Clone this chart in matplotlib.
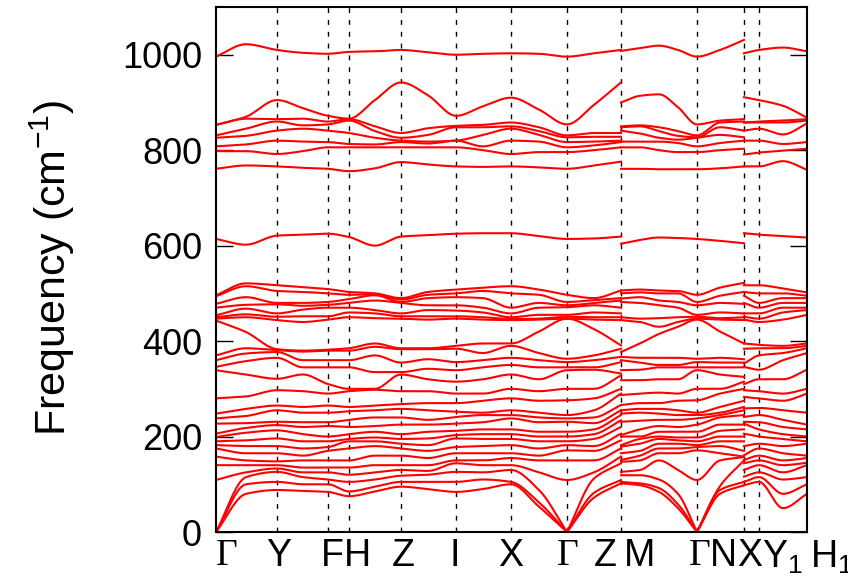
import numpy as np
import matplotlib
matplotlib.use("Agg")
import matplotlib.pyplot as plt

plt.rcParams["font.family"] = ["Liberation Sans", "DejaVu Sans"]
plt.rcParams["mathtext.fontset"] = "custom"
plt.rcParams["mathtext.rm"] = "Liberation Sans"
plt.rcParams["mathtext.it"] = "Liberation Sans:italic"

# k-path distance (arbitrary units) of the sampled points on each continuous piece
k_a = [0, 30, 61, 87, 112, 133, 159, 185, 212, 240, 267, 295, 323, 351, 378, 405]
k_b = [405, 424, 443, 462, 481, 504, 528]
k_c = [528, 543, 567, 591]

# frequencies (cm-1) read at each sampled k point: low optical/acoustic + high modes
freq_a = [
    [0, 0, 0, 109, 140, 158, 175, 182, 190, 199, 206, 227, 238, 248, 280, 339, 346, 360, 370, 443, 447, 450, 454, 470, 478, 494, 496,
     614, 761, 798, 808, 826, 831, 853, 853, 996],
    [80, 100, 115, 125, 140, 150, 165, 180, 192, 208, 218, 228, 243, 258, 284, 330, 358, 374, 385, 419, 450, 456, 468, 476, 492, 515, 521,
     602, 768, 798, 812, 830, 845, 866, 870, 1022],
    [88, 105, 126, 133, 140, 148, 165, 180, 196, 213, 224, 231, 255, 265, 297, 321, 365, 377, 381, 383, 444, 451, 458, 477, 480, 505, 517,
     621, 766, 792, 820, 841, 860, 865, 905, 1010],
    [86, 100, 115, 125, 135, 150, 160, 175, 190, 205, 220, 230, 250, 262, 295, 330, 345, 360, 378, 380, 440, 452, 466, 474, 480, 503, 513,
     623, 763, 798, 818, 845, 852, 866, 888, 1004],
    [84, 100, 110, 125, 135, 150, 170, 178, 190, 200, 222, 230, 250, 265, 290, 310, 345, 360, 380, 382, 445, 452, 470, 476, 482, 500, 509,
     625, 761, 806, 817, 841, 854, 860, 872, 1002],
    [75, 85, 105, 120, 135, 150, 175, 190, 195, 205, 220, 235, 253, 262, 295, 300, 345, 360, 380, 385, 450, 460, 470, 480, 488, 497, 503,
     618, 756, 806, 813, 836, 862, 865, 866, 1006],
    [85, 95, 110, 125, 140, 160, 180, 190, 198, 210, 222, 240, 255, 265, 298, 300, 335, 370, 388, 395, 448, 458, 465, 485, 496, 498, 500,
     600, 762, 806, 812, 826, 840, 850, 905, 1007],
    [95, 105, 118, 130, 140, 160, 175, 185, 195, 205, 225, 240, 258, 268, 295, 330, 335, 355, 383, 385, 447, 452, 458, 480, 482, 487, 490,
     619, 775, 806, 817, 820, 826, 836, 942, 1010],
    [90, 105, 120, 128, 140, 155, 170, 182, 196, 210, 225, 235, 255, 270, 295, 320, 342, 362, 383, 385, 445, 452, 465, 475, 490, 497, 503,
     622, 770, 806, 814, 818, 832, 846, 915, 1005],
    [84, 105, 126, 144, 150, 165, 178, 196, 203, 212, 227, 241, 252, 270, 290, 315, 339, 356, 384, 390, 447, 452, 464, 475, 492, 500, 508,
     625, 766, 806, 820, 820, 848, 851, 872, 1000],
    [90, 110, 125, 140, 150, 165, 180, 195, 205, 215, 230, 245, 250, 275, 290, 320, 345, 360, 375, 395, 445, 450, 460, 470, 490, 505, 512,
     626, 765, 800, 808, 832, 848, 853, 892, 1002],
    [100, 105, 130, 140, 155, 165, 182, 195, 205, 215, 238, 245, 255, 280, 300, 330, 350, 365, 390, 395, 444, 446, 450, 458, 470, 500, 515,
     626, 766, 792, 820, 845, 850, 858, 910, 1003],
    [53, 62, 88, 125, 150, 160, 175, 190, 200, 210, 230, 240, 250, 275, 295, 320, 345, 360, 375, 420, 445, 447, 455, 470, 480, 497, 508,
     620, 764, 796, 818, 832, 840, 848, 885, 1002],
    [0, 0, 0, 109, 150, 171, 182, 190, 200, 210, 231, 238, 245, 276, 300, 339, 345, 356, 363, 447, 447, 451, 455, 471, 475, 482, 497,
     614, 761, 796, 806, 817, 827, 831, 854, 996],
    [72, 82, 112, 125, 150, 170, 180, 195, 205, 215, 228, 240, 255, 280, 300, 340, 345, 360, 370, 425, 445, 450, 460, 475, 480, 486, 490,
     615, 768, 800, 810, 818, 828, 836, 895, 1003],
    [102, 109, 144, 158, 175, 192, 206, 220, 234, 245, 255, 266, 290, 300, 328, 332, 356, 367, 384, 391, 444, 450, 458, 470, 485, 490, 506,
     619, 776, 806, 817, 820, 828, 836, 942, 1010],
]

freq_b = [
    [102, 105, 119, 126, 147, 151, 165, 179, 182, 200, 203, 231, 248, 255, 266, 287, 318, 339, 360, 367, 377, 444, 450, 482, 489, 500, 506,
     604, 761, 806, 818, 841, 848, 850, 900, 1008],
    [98, 102, 119, 130, 150, 160, 170, 185, 195, 200, 215, 233, 250, 258, 270, 290, 318, 340, 355, 365, 395, 440, 447, 480, 492, 502, 508,
     612, 761, 806, 818, 835, 850, 852, 914, 1014],
    [84, 92, 110, 150, 165, 175, 185, 195, 200, 210, 222, 235, 248, 258, 270, 292, 320, 345, 350, 365, 415, 430, 448, 475, 485, 500, 506,
     617, 760, 800, 818, 826, 840, 848, 917, 1019],
    [50, 58, 80, 130, 165, 175, 185, 192, 198, 210, 220, 235, 245, 255, 275, 290, 320, 345, 350, 365, 430, 440, 450, 470, 482, 500, 505,
     616, 760, 796, 815, 822, 830, 840, 890, 1010],
    [0, 0, 0, 109, 171, 178, 182, 190, 198, 210, 225, 238, 245, 250, 276, 300, 339, 345, 356, 363, 445, 447, 451, 455, 475, 482, 497,
     614, 760, 796, 808, 826, 827, 831, 854, 996],
    [80, 88, 96, 150, 165, 180, 190, 200, 212, 225, 240, 245, 250, 262, 290, 300, 330, 345, 355, 365, 420, 445, 448, 460, 480, 495, 512,
     610, 762, 800, 815, 832, 848, 858, 862, 1010],
    [98, 105, 157, 150, 158, 170, 190, 200, 215, 225, 245, 255, 262, 275, 300, 315, 325, 345, 355, 362, 395, 444, 450, 458, 478, 503, 522,
     605, 766, 803, 820, 827, 841, 860, 865, 1031],
]

freq_c = [
    [98, 105, 116, 130, 144, 151, 161, 180, 206, 227, 231, 241, 259, 283, 297, 310, 346, 353, 384, 395, 445, 451, 458, 480, 495, 503, 517,
     626, 766, 791, 820, 841, 858, 858, 911, 1003],
    [105, 115, 125, 140, 150, 160, 175, 185, 200, 215, 230, 245, 260, 280, 295, 320, 340, 370, 385, 392, 440, 447, 458, 470, 480, 500, 517,
     623, 766, 795, 820, 845, 858, 860, 905, 1010],
    [50, 80, 110, 125, 140, 150, 165, 180, 195, 205, 220, 235, 255, 275, 290, 320, 360, 375, 385, 390, 445, 460, 470, 480, 490, 500, 510,
     620, 777, 799, 813, 833, 858, 862, 893, 1015],
    [80, 100, 115, 140, 145, 155, 160, 185, 190, 200, 215, 225, 250, 290, 300, 340, 375, 385, 390, 395, 455, 465, 470, 480, 490, 495, 502,
     617, 759, 803, 817, 856, 862, 865, 868, 1007],
]

node_k = [0, 61, 112, 133, 185, 240, 295, 351, 405, 481, 528, 543, 591]
label_k = [11, 63, 116, 141, 187, 239, 295, 352, 389, 424, 484, 507, 534, 546, 594]
labels = ["Γ", "Y", "F", "H", "Z", "I", "X", "Γ", "Z", "M", "Γ", "N", "X", "Y$_1$", "H$_1$"]


def pchip(x, y, xn):
    # shape preserving cubic through the read points (smooth drawing only)
    x = np.asarray(x, float)
    y = np.asarray(y, float)
    h = np.diff(x)
    d = np.diff(y) / h
    m = np.zeros_like(y)
    m[0], m[-1] = d[0], d[-1]
    for k in range(1, len(y) - 1):
        if d[k - 1] * d[k] > 0:
            w1 = 2 * h[k] + h[k - 1]
            w2 = h[k] + 2 * h[k - 1]
            m[k] = (w1 + w2) / (w1 / d[k - 1] + w2 / d[k])
    i = np.clip(np.searchsorted(x, xn) - 1, 0, len(x) - 2)
    t = (xn - x[i]) / h[i]
    h00 = 2 * t**3 - 3 * t**2 + 1
    h10 = t**3 - 2 * t**2 + t
    h01 = -2 * t**3 + 3 * t**2
    h11 = t**3 - t**2
    return h00 * y[i] + h10 * h[i] * m[i] + h01 * y[i + 1] + h11 * h[i] * m[i + 1]


def draw_band(ax, ks, band):
    # acoustic branches have a cusp at Gamma, so split the curve at zeros
    ks = np.asarray(ks, float)
    cuts = [0] + [j for j in range(1, len(band) - 1) if band[j] == 0] + [len(band) - 1]
    for a, b in zip(cuts[:-1], cuts[1:]):
        kn = np.linspace(ks[a], ks[b], 150)
        ax.plot(kn, pchip(ks[a:b + 1], band[a:b + 1], kn), color="red", lw=1.5, zorder=2)


fig = plt.figure(figsize=(8.48, 5.77), dpi=100)
ax = fig.add_axes([216 / 848, 1 - 532 / 577, 591 / 848, 525 / 577])

for xv in node_k[1:-1]:
    ax.axvline(xv, color="black", lw=1, ls=(0, (3.5, 5)), zorder=1)

for ks, table in [(k_a, freq_a), (k_b, freq_b), (k_c, freq_c)]:
    bands = np.sort(np.array(table, float), axis=1).T
    for b in bands:
        draw_band(ax, ks, b)

ax.set_xlim(node_k[0], node_k[-1])
ax.set_ylim(0, 1100)
ax.set_xticks([])
ax.set_yticks(range(0, 1001, 200))
ax.tick_params(axis="y", direction="in", length=12, width=1, right=True, labelsize=26, pad=10)
for s in ax.spines.values():
    s.set_linewidth(1.5)

for kx, lab in zip(label_k, labels):
    fam = ["Liberation Serif"] if lab == "Γ" else ["Liberation Sans"]
    ha = "left" if "$" in lab else "center"
    ax.text(kx, -0.012, lab, transform=ax.get_xaxis_transform(), ha=ha, va="top",
            fontsize=27, family=fam, clip_on=False)

fig.text(52 / 848, 1 - 268 / 577, "Frequency (cm$^{-1}$)", rotation=90, ha="center", va="center", fontsize=31)

fig.savefig("out.png", dpi=100)
